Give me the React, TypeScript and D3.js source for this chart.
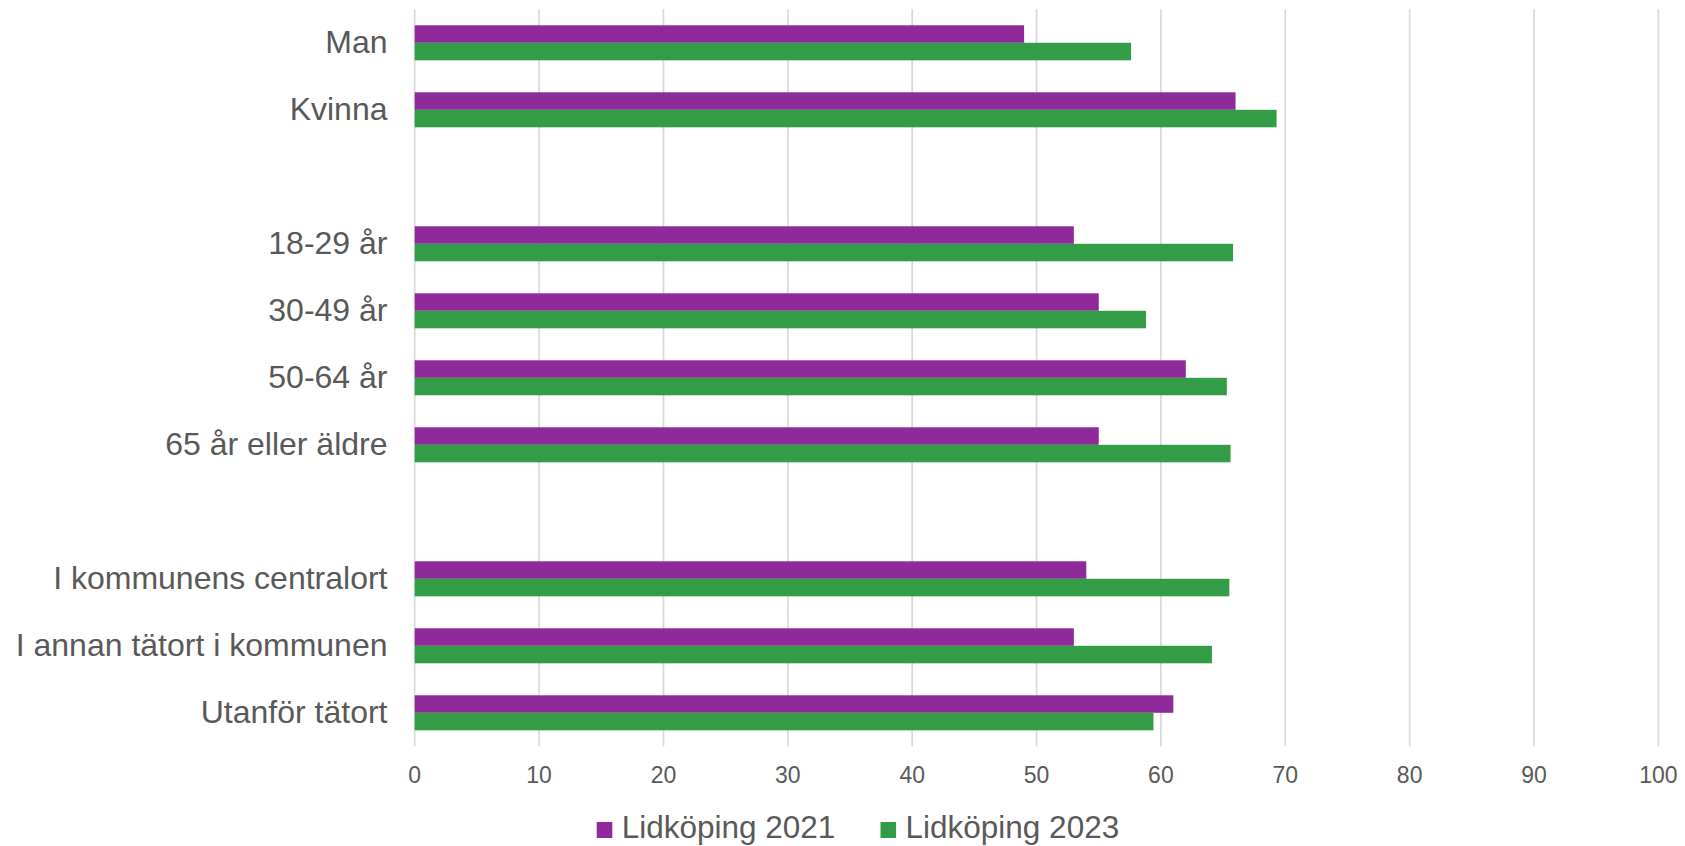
import * as d3 from 'd3';

// rows of the chart, blanks are spacer rows between groups
const categories = [
  'Man',
  'Kvinna',
  '',
  '18-29 år',
  '30-49 år',
  '50-64 år',
  '65 år eller äldre',
  '',
  'I kommunens centralort',
  'I annan tätort i kommunen',
  'Utanför tätort',
];
const seriesNames = ['Lidköping 2021', 'Lidköping 2023'];
const values2021 = [49, 66, null, 53, 55, 62, 55, null, 54, 53, 61];
const values2023 = [57.6, 69.3, null, 65.8, 58.8, 65.3, 65.6, null, 65.5, 64.1, 59.4];
const xTickValues = [0, 10, 20, 30, 40, 50, 60, 70, 80, 90, 100];

const colors = ['#8e2a9a', '#339c46'];
const textColor = '#595959';
const gridColor = '#d9d9d9';

const App = () => {
  const width = 1685;
  const height = 846;
  const margin = { top: 9.3, left: 414.7, right: 26.6, bottom: 99.7 };
  const innerBottom = height - margin.bottom;

  const x = d3.scaleLinear().domain([0, 100]).range([margin.left, width - margin.right]);
  const y = d3
    .scaleBand<number>()
    .domain(d3.range(categories.length))
    .range([margin.top, innerBottom])
    .padding(0);
  const ySub = d3
    .scaleBand<string>()
    .domain(seriesNames)
    .range([0, y.bandwidth()])
    .paddingInner(0)
    .paddingOuter(0.914);

  const seriesValues = [values2021, values2023];

  // legend layout
  const legendY = 830;
  const legendItems = [
    { x: 596.7, name: seriesNames[0], color: colors[0] },
    { x: 880.5, name: seriesNames[1], color: colors[1] },
  ];

  return (
    <div style={{ position: 'absolute', left: 0, top: 0 }}>
      <svg width={width} height={height} style={{ display: 'block', fontFamily: '"Liberation Sans", Arial, sans-serif' }}>
        <rect width={width} height={height} fill="#fff" />
        {/* vertical gridlines */}
        {xTickValues.map((t) => (
          <line
            key={`g${t}`}
            x1={x(t)}
            x2={x(t)}
            y1={margin.top}
            y2={innerBottom}
            stroke={gridColor}
            strokeWidth={1.75}
          />
        ))}
        {/* bars */}
        {seriesValues.map((vals, si) =>
          vals.map((v, i) =>
            v == null ? null : (
              <rect
                key={`b${si}-${i}`}
                x={x(0)}
                y={y(i)! + ySub(seriesNames[si])!}
                width={x(v) - x(0)}
                height={ySub.bandwidth()}
                fill={colors[si]}
              />
            )
          )
        )}
        {/* category labels */}
        {categories.map((c, i) =>
          c ? (
            <text
              key={`c${i}`}
              x={387.5}
              y={y(i)! + y.bandwidth() / 2 + 10.5}
              textAnchor="end"
              fontSize={32}
              fill={textColor}
            >
              {c}
            </text>
          ) : null
        )}
        {/* x tick labels */}
        {xTickValues.map((t) => (
          <text key={`t${t}`} x={x(t)} y={782.5} textAnchor="middle" fontSize={23} fill={textColor}>
            {t}
          </text>
        ))}
        {/* legend */}
        {legendItems.map((d) => (
          <g key={d.name}>
            <rect x={d.x} y={legendY - 8} width={15.6} height={16} fill={d.color} />
            <text x={d.x + 25} y={838.3} fontSize={31.5} fill={textColor}>
              {d.name}
            </text>
          </g>
        ))}
      </svg>
    </div>
  );
};

export default App;
